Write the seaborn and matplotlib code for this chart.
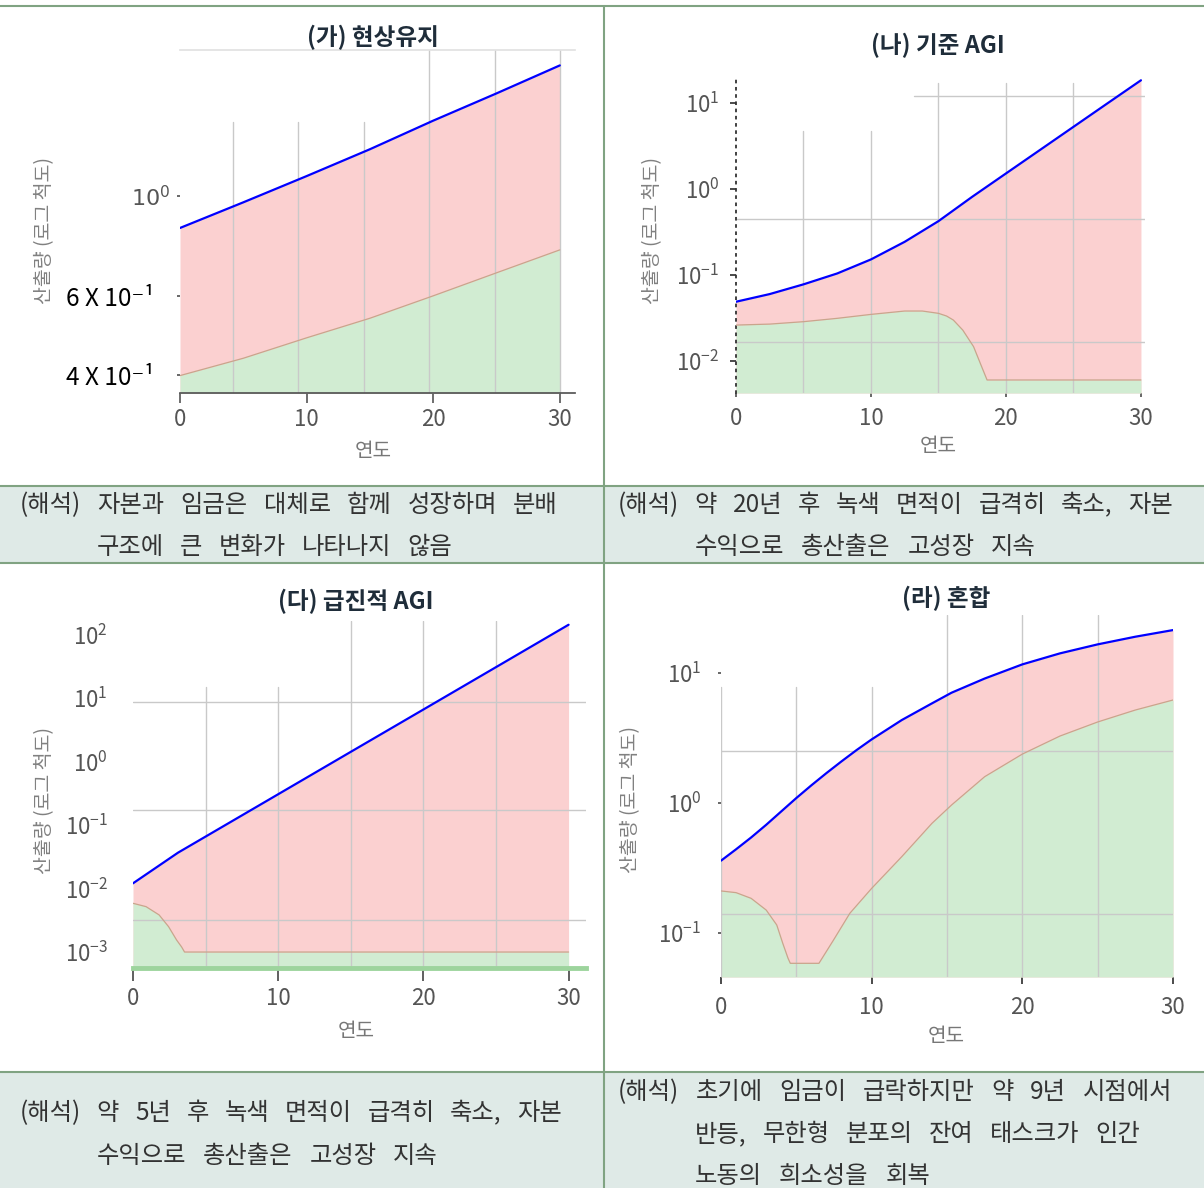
import numpy as np
import pandas as pd
import seaborn as sns
import matplotlib.pyplot as plt
from matplotlib.patches import Rectangle
from matplotlib.ticker import FixedLocator, NullLocator

# (가) 현상유지
years_a_total = [0, 5, 10, 15, 20, 25, 30]
total_a = [0.849, 0.968, 1.107, 1.27, 1.47, 1.69, 1.95]
years_a_wage = [0, 5, 10, 15, 20, 25, 30]
wage_a = [0.399, 0.436, 0.484, 0.535, 0.600, 0.675, 0.759]

# (나) 기준 AGI
years_b_total = [0, 2.5, 5, 7.5, 10, 12.5, 15, 17.5, 20, 22.5, 25, 27.5, 30]
total_b = [0.0491, 0.0603, 0.0782, 0.1047, 0.1524, 0.2443, 0.4246, 0.8147, 1.521, 2.838,
           5.297, 9.886, 18.41]
years_b_wage = [0, 2.5, 5, 7.5, 10, 12.5, 13.8, 15, 15.6, 16.1, 16.8, 17.6, 18.2, 18.6, 30]
wage_b = [0.0263, 0.0270, 0.0288, 0.0315, 0.0350, 0.0383, 0.0383, 0.0360, 0.0335, 0.0301,
          0.0230, 0.01476, 0.00863, 0.00605, 0.00605]

# (다) 급진적 AGI
years_c_total = [0, 3.1, 5, 10, 15, 20, 25, 30]
total_c = [0.0121, 0.0368, 0.066, 0.307, 1.43, 6.64, 30.9, 144]
years_c_wage = [0, 0.9, 1.8, 2.45, 3.0, 3.35, 3.55, 30]
wage_c = [0.00586, 0.00519, 0.00384, 0.00251, 0.00155, 0.0012, 0.0010, 0.0010]

# (라) 혼합
years_d_total = [0, 1, 2, 3, 4, 5, 6, 7, 8, 9, 10, 12, 14, 15.3, 17.5, 20, 22.5, 25, 27.5, 30]
total_d = [0.358, 0.438, 0.540, 0.676, 0.857, 1.086, 1.361, 1.690, 2.080, 2.541, 3.069,
           4.325, 5.808, 7.015, 9.02, 11.59, 14.09, 16.52, 18.92, 21.28]
years_d_wage = [0, 1, 2, 3, 3.7, 4.1, 4.45, 4.6, 6.5, 7.45, 8.55, 10, 12, 14, 15.3, 17.5,
                20, 22.5, 25, 27.5, 30]
wage_d = [0.2094, 0.2032, 0.1837, 0.1493, 0.1146, 0.0828, 0.0635, 0.0581, 0.0581, 0.0871,
          0.1409, 0.2193, 0.3846, 0.6934, 0.9594, 1.585, 2.366, 3.258, 4.178, 5.164, 6.166]

titles = ["(가) 현상유지", "(나) 기준 AGI", "(다) 급진적 AGI", "(라) 혼합"]
captions = [
    ["(해석) 자본과 임금은 대체로 함께 성장하며 분배", "구조에 큰 변화가 나타나지 않음"],
    ["(해석) 약 20년 후 녹색 면적이 급격히 축소, 자본", "수익으로 총산출은 고성장 지속"],
    ["(해석) 약 5년 후 녹색 면적이 급격히 축소, 자본", "수익으로 총산출은 고성장 지속"],
    ["(해석) 초기에 임금이 급락하지만 약 9년 시점에서", "반등, 무한형 분포의 잔여 태스크가 인간",
     "노동의 희소성을 회복"],
]

PINK = "#fbd0d0"
GREEN = "#d1ecd2"
EDGE = "#c9a58c"
GRID = "#c9c9c9"
TICK = "#555555"
LINE = "#80a382"

sns.set_theme(style="white")
plt.rcParams['font.family'] = ['Noto Sans CJK KR', 'DejaVu Sans']

W, H = 1204, 1188
fig = plt.figure(figsize=(W / 100, H / 100), dpi=100)

# table background
bg = fig.add_axes([0, 0, 1, 1], zorder=0)
bg.set_xlim(0, W)
bg.set_ylim(H, 0)
bg.axis('off')
bg.add_patch(Rectangle((0, 486), W, 77, color="#dfeae7", lw=0))
bg.add_patch(Rectangle((0, 1072), W, 116, color="#dfeae7", lw=0))
for yy in [6, 486, 563, 1072]:
    bg.plot([0, W], [yy, yy], color=LINE, lw=1.5)
bg.plot([604, 604], [6, H], color=LINE, lw=1.5)


def px_rect(l, t, r, b):
    return [l / W, 1 - b / H, (r - l) / W, (b - t) / H]


def draw_panel(rect, yt, tot, yw, wg, xlim, ylim):
    ax = fig.add_axes(px_rect(*rect), zorder=1)
    ax.set_facecolor('none')
    ax.set_yscale('log')
    ax.fill_between(yt, ylim[0], tot, color=PINK, lw=0, zorder=1)
    ax.fill_between(yw, ylim[0], wg, color=GREEN, lw=0, zorder=1.1)
    sns.lineplot(x=yw, y=wg, color=EDGE, lw=0.9, ax=ax, zorder=3)
    sns.lineplot(x=yt, y=tot, color='blue', lw=1.6, ax=ax, zorder=4)
    ax.set_xlim(xlim)
    ax.set_ylim(ylim)
    ax.yaxis.set_minor_locator(NullLocator())
    ax.xaxis.set_major_locator(FixedLocator([0, 10, 20, 30]))
    ax.tick_params(axis='both', labelsize=16, labelcolor=TICK, colors=TICK)
    for s in ax.spines.values():
        s.set_visible(False)
    ax.set_xlabel("연도", fontsize=14.5, color="#777777")
    ax.set_ylabel("산출량 (로그 척도)", fontsize=14, color="#808080")
    ax.xaxis.label.set_va('center')
    ax.yaxis.label.set_va('center')
    return ax


def vgrid(ax, xs, tops):
    for gx, tp in zip(xs, tops):
        ax.axvline(gx, ymin=0, ymax=tp, color=GRID, lw=1, zorder=2)


def hgrid(ax, ys, starts):
    for gy, st in zip(ys, starts):
        ax.axhline(gy, xmin=st, xmax=1, color=GRID, lw=1, zorder=2)


# (가)
ax = draw_panel((180, 50, 575, 393), years_a_total, total_a, years_a_wage, wage_a,
                (0, 31.2), (0.365, 2.11))
vgrid(ax, [4.2, 9.3, 14.5, 19.7, 24.9, 30], [0.79, 0.79, 0.79, 1, 1, 1])
ax.set_yticks([0.4, 0.6, 1.0])
ax.set_yticklabels(["4 X 10⁻¹   ", "6 X 10⁻¹   ", "$10^0$"])
for lab in ax.get_yticklabels()[:2]:
    lab.set_color('black')
    lab.set_fontsize(17.5)
ax.spines['bottom'].set_visible(True)
ax.spines['bottom'].set_color(TICK)
ax.spines['top'].set_visible(True)
ax.spines['top'].set_color("#e2e2e2")
ax.tick_params(axis='x', bottom=True, length=7, width=1.2, pad=4)
ax.tick_params(axis='y', left=True, length=2, pad=5)
ax.xaxis.set_label_coords(0.489, -0.172)
ax.yaxis.set_label_coords(-0.342, 0.475)

# (나)
ax = draw_panel((736, 77, 1145, 393), years_b_total, total_b, years_b_wage, wage_b,
                (0, 30.3), (0.00427, 20.1))
vgrid(ax, [5, 10, 15, 20, 25], [0.83, 0.83, 0.98, 0.98, 0.98])
hgrid(ax, [11.96, 0.446, 0.0167], [0.435, 0, 0])
ax.set_yticks([0.01, 0.1, 1, 10])
ax.spines['left'].set_visible(True)
ax.spines['left'].set_color("#333333")
ax.spines['left'].set_linestyle((0, (1, 3)))
ax.spines['left'].set_linewidth(1.3)
ax.tick_params(axis='y', left=True, length=4, pad=8, colors="#333333", labelcolor=TICK)
ax.tick_params(axis='x', bottom=True, length=3, pad=7)
ax.xaxis.set_label_coords(0.494, -0.168)
ax.yaxis.set_label_coords(-0.205, 0.515)

# (다)
ax = draw_panel((133, 621, 586, 968), years_c_total, total_c, years_c_wage, wage_c,
                (0, 31.2), (0.00056, 165))
vgrid(ax, [5, 10, 15, 20, 25], [0.81, 0.81, 1, 1, 1])
hgrid(ax, [8.8, 0.174, 0.0032], [0, 0, 0])
ax.set_yticks([1e-3, 1e-2, 1e-1, 1, 10, 100])
ax.spines['bottom'].set_visible(True)
ax.spines['bottom'].set_color("#9dd49d")
ax.spines['bottom'].set_linewidth(3.5)
ax.tick_params(axis='x', bottom=True, length=9, width=1.2, pad=5, colors="#444444",
               labelcolor=TICK)
ax.tick_params(axis='y', left=False, pad=12)
ax.xaxis.set_label_coords(0.492, -0.184)
ax.yaxis.set_label_coords(-0.194, 0.484)

# (라)
ax = draw_panel((721, 615, 1173, 977), years_d_total, total_d, years_d_wage, wage_d,
                (0, 30), (0.0456, 27.8))
vgrid(ax, [0, 5, 10, 15, 20, 25], [0.80, 0.80, 0.80, 1, 1, 1])
hgrid(ax, [2.51, 0.139], [0, 0])
ax.set_yticks([0.1, 1, 10])
ax.tick_params(axis='y', left=True, length=2, pad=12)
ax.tick_params(axis='x', bottom=True, length=5, pad=9, colors="#333333", labelcolor=TICK)
ax.xaxis.set_label_coords(0.498, -0.164)
ax.yaxis.set_label_coords(-0.201, 0.489)

# titles
for t, (tx, ty) in zip(titles, [(373, 37), (938, 45), (356, 601), (946, 598)]):
    fig.text(tx / W, 1 - ty / H, t, ha='center', va='center', fontsize=17,
             fontweight='bold', color="#1f2d3a")

# captions, words spread over each line's span
renderer = fig.canvas.get_renderer()


def put_line(x0, x1, y, text):
    words = text.split(' ')
    objs = [bg.text(0, y, w, fontsize=17.5, color="#333333", va='center', ha='left')
            for w in words]
    widths = [o.get_window_extent(renderer).width for o in objs]
    gap = (x1 - x0 - sum(widths)) / max(len(words) - 1, 1)
    x = x0
    for o, w in zip(objs, widths):
        o.set_x(x)
        x += w + gap


spans = [
    [(20, 558, 505), (97, 452, 547)],
    [(618, 1173, 505), (695, 1036, 547)],
    [(20, 562, 1113), (97, 438, 1156)],
    [(618, 1172, 1092), (695, 1140, 1134), (695, 930, 1176)],
]
for lines, sp in zip(captions, spans):
    for text, (x0, x1, y) in zip(lines, sp):
        put_line(x0, x1, y, text)

fig.savefig("out.png", dpi=100)
